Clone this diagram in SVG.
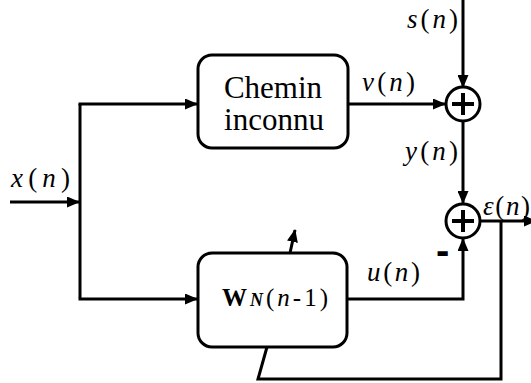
<svg xmlns="http://www.w3.org/2000/svg" width="531" height="383" viewBox="0 0 531 383">
<style>
  .ln { fill: none; stroke: #000; stroke-width: 3; stroke-linejoin: miter; }
  .box { fill: #fff; stroke: #000; stroke-width: 3; }
  .sum { fill: #fff; stroke: #000; stroke-width: 3; }
  .plus { stroke: #000; stroke-width: 4; }
  .it { font-style: italic; }
</style>
<defs>
  <marker id="arr" markerUnits="userSpaceOnUse" markerWidth="13" markerHeight="11" refX="12" refY="5.5" orient="auto">
    <path d="M0,0 L13,5.5 L0,11 z" fill="#000"/>
  </marker>
</defs>
<rect width="531" height="383" fill="#fff"/>

<g id="connectors">
  <line class="ln" x1="10" y1="202" x2="79" y2="202" marker-end="url(#arr)"/>
  <polyline class="ln" points="80,298 80,104"/>
  <polyline class="ln" points="78.5,104 197,104" marker-end="url(#arr)"/>
  <polyline class="ln" points="78.5,299 197,299" marker-end="url(#arr)"/>
  <line class="ln" x1="348" y1="104" x2="445" y2="104" marker-end="url(#arr)"/>
  <line class="ln" x1="463" y1="0" x2="463" y2="87" marker-end="url(#arr)"/>
  <line class="ln" x1="463" y1="121" x2="463" y2="203" marker-end="url(#arr)"/>
  <polyline class="ln" points="347,299 463,299 463,239" marker-end="url(#arr)"/>
  <line class="ln" x1="480" y1="221" x2="536" y2="221" marker-end="url(#arr)"/>
  <polyline class="ln" points="501,221 501,379 258,379 267,347"/>
  <line class="ln" x1="290" y1="253" x2="295" y2="230" marker-end="url(#arr)"/>
</g>

<g id="chemin" font-family="Liberation Serif, serif" font-size="31" fill="#000">
  <rect class="box" x="198" y="55" width="150" height="93" rx="14"/>
  <text x="273" y="98" text-anchor="middle">Chemin</text>
  <text x="274" y="130" text-anchor="middle">inconnu</text>
</g>

<g id="filtre" font-family="Liberation Serif, serif" fill="#000">
  <rect class="box" x="198" y="253" width="149" height="94" rx="14"/>
  <text x="222" y="306" textLength="106" font-size="25"><tspan font-weight="bold">W</tspan><tspan font-weight="bold" font-style="italic" font-size="18">N</tspan>(<tspan class="it">n</tspan>-1)</text>
</g>

<g id="sum1">
  <circle class="sum" cx="463" cy="104" r="17"/>
  <line class="plus" x1="452" y1="104" x2="474" y2="104"/>
  <line class="plus" x1="463" y1="93" x2="463" y2="115"/>
</g>

<g id="sum2">
  <circle class="sum" cx="463" cy="221" r="17"/>
  <line class="plus" x1="452" y1="221" x2="474" y2="221"/>
  <line class="plus" x1="463" y1="210" x2="463" y2="232"/>
</g>

<g id="labels" font-family="Liberation Serif, serif" font-size="27" fill="#000">
  <text x="11" y="187" textLength="59"><tspan class="it">x</tspan>(<tspan class="it">n</tspan>)</text>
  <text x="407" y="28" textLength="51"><tspan class="it">s</tspan>(<tspan class="it">n</tspan>)</text>
  <text x="362" y="91" textLength="53"><tspan class="it">v</tspan>(<tspan class="it">n</tspan>)</text>
  <text x="405" y="160" textLength="53"><tspan class="it">y</tspan>(<tspan class="it">n</tspan>)</text>
  <text x="483" y="215" textLength="47"><tspan class="it">ε</tspan>(<tspan class="it">n</tspan>)</text>
  <text x="367" y="281" textLength="53"><tspan class="it">u</tspan>(<tspan class="it">n</tspan>)</text>
  <text x="436" y="264" font-family="Liberation Sans, Arial, sans-serif" font-weight="bold" font-size="40">-</text>
</g>
</svg>
